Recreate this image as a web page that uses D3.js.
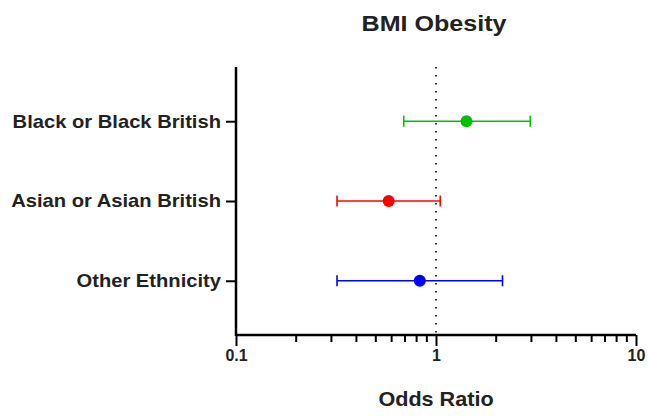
<!DOCTYPE html>
<html>
<head>
<meta charset="utf-8">
<script src="https://cdn.jsdelivr.net/npm/d3@7"></script>
<style>
  body { margin: 0; background: #fff; }
  text { font-family: "Liberation Sans", Arial, sans-serif; font-weight: bold; fill: #222; }
</style>
</head>
<body>
<div id="chart"></div>
<script>
// data
var groups = ["Black or Black British", "Asian or Asian British", "Other Ethnicity"];
var oddsRatio = [1.42, 0.58, 0.83];
var lowerCI = [0.69, 0.32, 0.32];
var upperCI = [2.96, 1.05, 2.15];
var colours = ["#00c000", "#ff0000", "#0000ff"];
var xTicks = [0.1, 1, 10];

var W = 648, H = 417;
var margin = { top: 67, right: 12, bottom: 82, left: 236 };
var width = W - margin.left - margin.right,
    height = H - margin.top - margin.bottom;

var svg = d3.select("#chart").append("svg")
    .attr("width", W)
    .attr("height", H);

var g = svg.append("g")
    .attr("transform", "translate(" + margin.left + "," + margin.top + ")");

var x = d3.scaleLog().domain([0.1, 10]).range([0, 400]);
var y = d3.scalePoint().domain(groups).range([0, height]).padding(0.68);

// reference line at OR = 1
g.append("line")
    .attr("x1", x(1)).attr("x2", x(1))
    .attr("y1", 0).attr("y2", height)
    .attr("stroke", "#333")
    .attr("stroke-width", 2)
    .attr("stroke-dasharray", "1.6,6.4");

// minor ticks
var minor = [];
[0.1, 1].forEach(function (d) {
    for (var i = 2; i <= 9; i++) minor.push(d * i);
});
g.selectAll(".minor").data(minor).enter().append("line")
    .attr("x1", function (d) { return x(d); })
    .attr("x2", function (d) { return x(d); })
    .attr("y1", height).attr("y2", height + 7)
    .attr("stroke", "#000").attr("stroke-width", 2);

// x axis
var xAxis = g.append("g")
    .attr("transform", "translate(0," + height + ")")
    .call(d3.axisBottom(x).tickValues(xTicks).tickFormat(d3.format("")).tickSize(11).tickPadding(4));
xAxis.select(".domain").attr("stroke", "#000").attr("stroke-width", 2.5).attr("d", "M0,0H400");
xAxis.selectAll(".tick line").attr("stroke", "#000").attr("stroke-width", 2);
xAxis.selectAll("text").style("font-size", "16px").attr("fill", "#222");

// y axis
var yAxis = g.append("g")
    .call(d3.axisLeft(y).tickSize(10).tickPadding(5));
yAxis.select(".domain").attr("stroke", "#000").attr("stroke-width", 2.5).attr("d", "M0,0V" + (height + 1));
yAxis.selectAll(".tick line").attr("stroke", "#000").attr("stroke-width", 2);
yAxis.selectAll("text")
    .style("font-size", "18px")
    .attr("fill", "#222")
    .attr("x", 0)
    .attr("transform", "translate(-15,0) scale(1.12,1)");

// error bars
var rows = g.selectAll(".row").data(groups).enter().append("g")
    .attr("transform", function (d) { return "translate(0," + y(d) + ")"; });

rows.append("line")
    .attr("x1", function (d, i) { return x(lowerCI[i]); })
    .attr("x2", function (d, i) { return x(upperCI[i]); })
    .attr("stroke", function (d, i) { return colours[i]; })
    .attr("stroke-width", 1.6);

rows.append("line")
    .attr("x1", function (d, i) { return x(lowerCI[i]); })
    .attr("x2", function (d, i) { return x(lowerCI[i]); })
    .attr("y1", -5.5).attr("y2", 5.5)
    .attr("stroke", function (d, i) { return colours[i]; })
    .attr("stroke-width", 1.6);

rows.append("line")
    .attr("x1", function (d, i) { return x(upperCI[i]); })
    .attr("x2", function (d, i) { return x(upperCI[i]); })
    .attr("y1", -5.5).attr("y2", 5.5)
    .attr("stroke", function (d, i) { return colours[i]; })
    .attr("stroke-width", 1.6);

rows.append("circle")
    .attr("cx", function (d, i) { return x(oddsRatio[i]); })
    .attr("r", 6)
    .attr("fill", function (d, i) { return colours[i]; });

// titles
svg.append("text")
    .attr("transform", "translate(" + (margin.left + x(1) - 2) + ",31) scale(1.14,1)")
    .attr("text-anchor", "middle")
    .style("font-size", "22px")
    .text("BMI Obesity");

svg.append("text")
    .attr("transform", "translate(" + (margin.left + x(1)) + ",406) scale(1.08,1)")
    .attr("text-anchor", "middle")
    .style("font-size", "20px")
    .text("Odds Ratio");
</script>
</body>
</html>
